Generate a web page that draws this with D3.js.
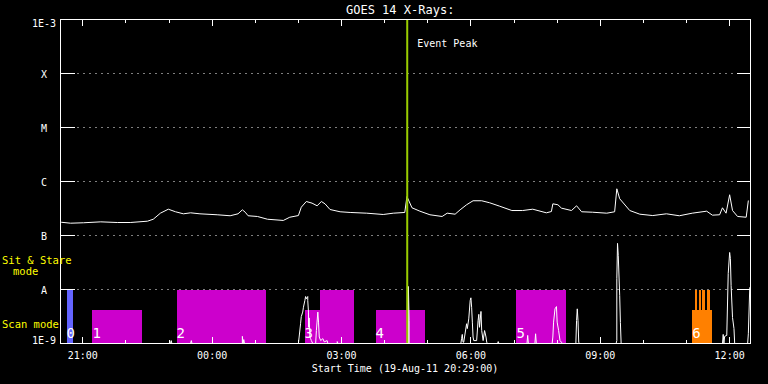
<html>
<head>
<script src="https://d3js.org/d3.v7.min.js"></script>
<style>
  body { margin: 0; background: #000; }
  text { font-family: "DejaVu Sans Mono", monospace; fill: #fff; }
</style>
</head>
<body>
<svg id="chart" width="768" height="384" style="background:#000"></svg>
<script>
// time range of the plot
const startTime = "2011-08-19 20:29:00";
const endTime = "2011-08-20 12:29:00";
const eventPeak = "04:31:24";

// flux axis levels + labels
const levelValues = [1e-9, 1e-8, 1e-7, 1e-6, 1e-5, 1e-4, 1e-3];
const levelLabels = ["1E-9", "A", "B", "C", "M", "X", "1E-3"];

// GOES 14 long channel (W/m^2)
const goesTimes = ["20:30","20:43","21:01","21:25","21:48","22:06","22:30","22:38","22:48","22:59",
  "23:09","23:20","23:30","23:43","00:07","00:25","00:36","00:42","00:46","00:50",
  "01:03","01:17","01:39","01:48","02:00","02:04","02:11","02:19","02:26","02:32",
  "02:37","02:44","02:58","03:12","03:35","03:58","04:12","04:28","04:31","04:38",
  "04:49","05:03","05:20","05:27","05:38","05:45","05:54","06:03","06:15","06:26",
  "06:40","06:57","07:12","07:26","07:45","07:52","07:54","08:01","08:06","08:20",
  "08:27","08:34","08:49","09:09","09:20","09:23","09:27","09:41","09:55","10:13",
  "10:32","10:50","11:08","11:28","11:36","11:46","11:50","11:55","12:00","12:04",
  "12:11","12:23","12:26"];
const goesFlux = [1.76e-7,1.69e-7,1.72e-7,1.79e-7,1.74e-7,1.74e-7,1.84e-7,2.00e-7,2.59e-7,3.07e-7,
  2.75e-7,2.52e-7,2.63e-7,2.52e-7,2.42e-7,2.32e-7,2.52e-7,2.99e-7,2.70e-7,2.32e-7,
  2.25e-7,2.00e-7,1.90e-7,2.18e-7,2.34e-7,3.34e-7,4.26e-7,3.97e-7,3.55e-7,4.26e-7,
  3.86e-7,3.03e-7,2.75e-7,2.67e-7,2.59e-7,2.45e-7,2.59e-7,2.67e-7,5.27e-7,3.26e-7,
  2.82e-7,2.42e-7,2.25e-7,2.59e-7,2.48e-7,2.99e-7,3.71e-7,4.40e-7,4.40e-7,4.04e-7,
  3.49e-7,2.90e-7,2.90e-7,3.07e-7,2.63e-7,2.78e-7,3.86e-7,3.71e-7,3.21e-7,2.90e-7,
  3.55e-7,2.75e-7,2.70e-7,2.59e-7,2.75e-7,7.33e-7,4.79e-7,2.90e-7,2.48e-7,2.34e-7,
  2.52e-7,2.32e-7,2.59e-7,2.82e-7,2.38e-7,2.42e-7,3.26e-7,2.59e-7,5.68e-7,2.90e-7,
  2.25e-7,2.18e-7,4.45e-7];

// lower light curve (arbitrary units, % of the plot height)
const lcTimes = ["20:29",
  "23:02","23:03","23:04","23:30","23:31","23:32",
  "00:42","00:42","00:43","00:44","00:45",
  "02:00","02:01","02:03","02:04","02:06","02:07","02:09","02:10","02:11","02:13","02:13","02:14","02:14",
  "02:15","02:16","02:17","02:18","02:20","02:24","02:25","02:27","02:28","02:29","02:31","02:34","02:36","02:40","02:41",
  "02:54","02:54","02:55",
  "04:33","04:33","04:34","04:34",
  "05:46","05:47","05:48","05:49","05:50","05:54","05:55","05:57","05:59","06:00","06:01","06:02","06:03","06:04",
  "06:08","06:10","06:11","06:12","06:14","06:15","06:17","06:19","06:21","06:22","06:23",
  "06:37","06:38","06:39","07:18","07:19","07:20","07:29","07:30","07:31",
  "07:53","07:54","07:55","07:57","07:59","08:00","08:02","08:04","08:06","08:07",
  "08:26","08:27","08:28","08:29","08:30","08:31",
  "09:22","09:23","09:23","09:24","09:25","09:27","09:28","09:29",
  "11:50","11:51","11:52","11:53","11:56","11:58","12:00","12:01","12:02","12:04","12:06","12:07",
  "12:25","12:26","12:28","12:29"];
const lcValues = [0,
  0,0.9,0,0,0.9,0,
  0,2.2,0,1.2,0,
  0,2.0,6.1,8.3,9.7,11.2,13.3,14.5,13.8,14.5,13.3,9.7,5.0,
  7.9,2.0,1.5,0.9,0,0,4.0,9.7,6.6,2.0,0.9,1.5,0.5,0.9,0,
  0,0.6,0,
  0,17.6,7.1,0,
  0,1.5,2.8,0.4,0.4,6.1,4.6,7.6,13.3,14.1,11.2,6.6,2.0,0.9,
  0.9,7.1,9.0,5.0,9.9,4.0,0.9,4.0,2.0,0.4,0,
  0,0.6,0,0,2.5,0,0,3.0,0,
  0,2.0,6.6,10.7,11.4,6.6,4.0,0.9,0.4,0,
  0,7.1,10.7,7.1,0.4,0,
  0,0.9,20.1,30.9,27.2,14.8,6.5,0,
  0,2.8,0,2.2,2.5,21.6,28.1,26.2,17.9,8.0,4.6,0,
  0,3.0,17.3,17.3];

// IRIS-style observations: label, colour
const obsLabels = ["0","1","2","3","4","5","6"];
const obsColors = ["#6464ff","#cc00cc","#cc00cc","#cc00cc","#cc00cc","#cc00cc","#ff8000"];

// rasters inside each observation
const rasterObs   = [0,0,0,0, 1, 2, 3,3, 4, 5, 6,6,6,6,6];
const rasterMode  = ["scan","stare","stare","stare","scan","stare","scan","stare","scan","stare","scan","stare","stare","stare","stare"];
const rasterStart = ["20:37:21","20:37:21","20:41:31","20:44:18","21:13:31","23:10:24","02:08:30","02:30:42","03:47:18","07:03:24",
  "11:07:54","11:11:06","11:16:42","11:22:12","11:28:30"];
const rasterEnd   = ["20:46:07","20:40:08","20:42:55","20:46:07","22:23:05","01:15:12","02:30:42","03:17:36","04:56:48","08:12:36",
  "11:35:42","11:14:36","11:20:06","11:25:42","11:32:00"];
// how tall each mode bar goes, on the flux axis
const modeTop = { scan: 4.1e-9, stare: 1e-8 };

const svg = d3.select("#chart");
const fullTime = d3.timeParse("%Y-%m-%d %H:%M:%S");

// clock strings roll over midnight into the 20th
function clock(s) {
  if (s.length == 5) s = s + ":00";
  const day = +s.slice(0, 2) >= 20 ? "2011-08-19 " : "2011-08-20 ";
  return fullTime(day + s);
}

const plotL = 60.5, plotR = 750.5, plotT = 19.5, plotB = 343.5;

const x = d3.scaleTime()
  .domain([fullTime(startTime), fullTime(endTime)])
  .range([plotL, plotR]);
const y = d3.scaleLog()
  .domain([levelValues[0], levelValues[levelValues.length - 1]])
  .range([plotB, plotT]);
const yLc = d3.scaleLinear().domain([0, 100]).range([plotB, plotT]);

// dotted level lines
svg.append("g").selectAll("line")
  .data(levelValues.slice(1, -1))
  .join("line")
  .attr("x1", 77.5).attr("x2", 736)
  .attr("y1", d => y(d)).attr("y2", d => y(d))
  .attr("stroke", "#fff")
  .attr("stroke-dasharray", "1 5");

// observation bars
const rasters = rasterObs.map((o, i) => ({
  obs: o, mode: rasterMode[i], t0: clock(rasterStart[i]), t1: clock(rasterEnd[i])
}));
svg.append("g").selectAll("rect")
  .data(rasters)
  .join("rect")
  .attr("x", d => x(d.t0))
  .attr("width", d => x(d.t1) - x(d.t0))
  .attr("y", d => y(modeTop[d.mode]))
  .attr("height", d => plotB - y(modeTop[d.mode]))
  .attr("fill", d => obsColors[d.obs])
  .attr("shape-rendering", "crispEdges");

// numbers on the bars
const obsStart = obsLabels.map((l, i) => d3.min(rasters.filter(r => r.obs == i), r => r.t0));
svg.append("g").selectAll("text")
  .data(obsLabels)
  .join("text")
  .attr("x", (d, i) => x(obsStart[i]))
  .attr("y", 338)
  .style("font-size", "14px")
  .text(d => d);

// lower light curve
const lc = lcTimes.map((t, i) => ({ t: clock(t), v: lcValues[i] }));
svg.append("path")
  .attr("d", d3.line().x(d => x(d.t)).y(d => yLc(d.v))(lc))
  .attr("fill", "none")
  .attr("stroke", "#fff")
  .attr("stroke-width", 1);

// goes curve
const goes = goesTimes.map((t, i) => ({ t: clock(t), v: goesFlux[i] }));
svg.append("path")
  .attr("d", d3.line().x(d => x(d.t)).y(d => y(d.v))(goes))
  .attr("fill", "none")
  .attr("stroke", "#fff")
  .attr("stroke-width", 1);

// event peak marker
svg.append("line")
  .attr("x1", x(clock(eventPeak))).attr("x2", x(clock(eventPeak)))
  .attr("y1", plotT).attr("y2", plotB)
  .attr("stroke", "#9acd00")
  .attr("stroke-width", 2);
svg.append("text")
  .attr("x", x(clock(eventPeak)) + 10)
  .attr("y", 47)
  .style("font-size", "10px")
  .text("Event Peak");

// frame
svg.append("rect")
  .attr("x", plotL).attr("y", plotT)
  .attr("width", plotR - plotL).attr("height", plotB - plotT)
  .attr("fill", "none").attr("stroke", "#fff")
  .attr("shape-rendering", "crispEdges");

// level ticks both sides
const lvl = svg.append("g").attr("stroke", "#fff").attr("shape-rendering", "crispEdges");
lvl.selectAll(".l").data(levelValues).join("line")
  .attr("x1", plotL).attr("x2", plotL + 14)
  .attr("y1", d => y(d)).attr("y2", d => y(d));
lvl.selectAll(".r").data(levelValues).join("line")
  .attr("class", "r")
  .attr("x1", plotR - 14).attr("x2", plotR)
  .attr("y1", d => y(d)).attr("y2", d => y(d));

svg.append("g").selectAll("text")
  .data(levelValues)
  .join("text")
  .attr("x", 44)
  .attr("y", d => Math.min(Math.max(y(d) + 4.5, plotT + 7.5), plotB + 0.5))
  .attr("text-anchor", "middle")
  .style("font-size", "10px")
  .text((d, i) => levelLabels[i]);

// hour ticks top and bottom, long every 3 hours
const hours = d3.timeHour.range(x.domain()[0], x.domain()[1]);
const tk = svg.append("g").attr("stroke", "#fff").attr("shape-rendering", "crispEdges");
tk.selectAll(".t").data(hours).join("line")
  .attr("x1", d => x(d)).attr("x2", d => x(d))
  .attr("y1", plotT).attr("y2", d => plotT + (d.getHours() % 3 == 0 ? 6.5 : 3.5));
tk.selectAll(".b").data(hours).join("line")
  .attr("class", "b")
  .attr("x1", d => x(d)).attr("x2", d => x(d))
  .attr("y1", plotB).attr("y2", d => plotB - (d.getHours() % 3 == 0 ? 6.5 : 3.5));

const fmt = d3.timeFormat("%H:%M");
svg.append("g").selectAll("text")
  .data(hours.filter(d => d.getHours() % 3 == 0))
  .join("text")
  .attr("x", d => x(d))
  .attr("y", 359)
  .attr("text-anchor", "middle")
  .style("font-size", "10px")
  .text(d => fmt(d));

svg.append("text")
  .attr("x", 405).attr("y", 372)
  .attr("text-anchor", "middle")
  .style("font-size", "10px")
  .text("Start Time (19-Aug-11 20:29:00)");

// title
svg.append("text")
  .attr("x", 346).attr("y", 13.5)
  .style("font-size", "12px")
  .text("GOES 14 X-Rays:");

// mode labels on the left
const yel = svg.append("g").style("font-size", "10.5px");
yel.append("text").attr("x", 2).attr("y", 264).style("fill", "#ffff00").text("Sit & Stare");
yel.append("text").attr("x", 13).attr("y", 275).style("fill", "#ffff00").text("mode");
yel.append("text").attr("x", 2).attr("y", 328).style("fill", "#ffff00").text("Scan mode");
</script>
</body>
</html>
